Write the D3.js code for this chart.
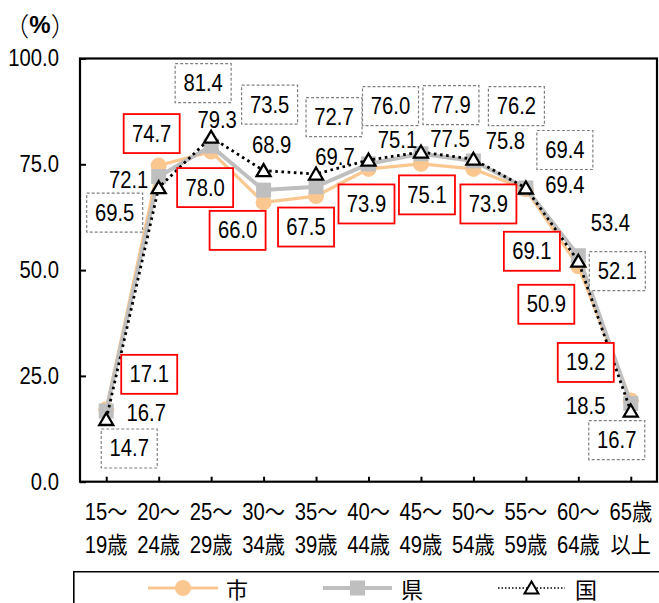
<!DOCTYPE html>
<html>
<head>
<meta charset="utf-8">
<script src="https://cdn.jsdelivr.net/npm/d3@7"></script>
<style>
  html, body { margin: 0; padding: 0; background: #fff; }
  svg { display: block; }
</style>
</head>
<body>
<svg id="chart" width="659" height="603"></svg>
<script>
// Labour force participation rate by age group (%)
const ageTop    = ["15～","20～","25～","30～","35～","40～","45～","50～","55～","60～","65歳"];
const ageBottom = ["19歳","24歳","29歳","34歳","39歳","44歳","49歳","54歳","59歳","64歳","以上"];
const categories = ageTop.map((t, i) => t + ageBottom[i]);

const cityValues   = [17.1, 74.7, 78.0, 66.0, 67.5, 73.9, 75.1, 73.9, 69.1, 50.9, 19.2]; // 市
const prefValues   = [16.7, 72.1, 79.3, 68.9, 69.7, 75.1, 77.5, 75.8, 69.4, 53.4, 18.5]; // 県
const nationValues = [14.7, 69.5, 81.4, 73.5, 72.7, 76.0, 77.9, 76.2, 69.4, 52.1, 16.7]; // 国

const yTicks = [0, 25, 50, 75, 100];
const seriesNames = ["市", "県", "国"];

// Hand-placed label offsets (px from each point) so the three label sets don't collide
const cityLabelOffsets   = [[43,-35],[-7,-32],[-6,36],[-26,28],[-10,31],[-2,35],[6,31],[15,35],[6,62],[-32,38],[-45,-38]];
const prefLabelOffsets   = [[40,2],[-30,3],[6,-26],[8,-45],[19,-30],[29,-24],[29,-15],[32,-20],[39,-3],[32,-33],[-45,3]];
const nationLabelOffsets = [[23,29],[-44,25],[-8,-54],[6,-66],[18,-57],[22,-54],[30,-47],[43,-53],[39,-38],[39,10],[-14,29]];

const FONT = "'Liberation Sans',Arial,'Noto Sans CJK JP',sans-serif";
const CJK  = "'Noto Sans CJK JP',sans-serif";
const FS = 23;
const SX = 0.88; // slightly condensed glyphs

const ORANGE = "#FBC791";
const GRAY = "#BFBFBF";

const svg = d3.select("#chart");

const plot = { left: 80, right: 657, top: 58.5, bottom: 481.7 };

const x = d3.scalePoint()
  .domain(categories)
  .range([plot.left, plot.right])
  .padding(0.5);

const y = d3.scaleLinear()
  .domain([0, 100])
  .range([plot.bottom, plot.top]);

// plot frame
svg.append("rect")
  .attr("x", plot.left).attr("y", plot.top)
  .attr("width", plot.right - plot.left).attr("height", plot.bottom - plot.top)
  .attr("fill", "none").attr("stroke", "#000").attr("stroke-width", 2.2);

// y axis (ticks pointing inward)
const yAxis = d3.axisRight(y)
  .tickValues(yTicks)
  .tickSize(6)
  .tickFormat("");
const yg = svg.append("g").attr("transform", `translate(${plot.left},0)`).call(yAxis);
yg.select(".domain").remove();
yg.selectAll(".tick line").attr("stroke", "#000").attr("stroke-width", 2);

svg.append("g").selectAll("text")
  .data(yTicks)
  .join("text")
  .attr("transform", d => `translate(59,${y(d)}) scale(${SX},1)`)
  .attr("text-anchor", "end")
  .attr("dominant-baseline", "central")
  .attr("font-family", FONT)
  .attr("font-size", FS)
  .attr("fill", "#000")
  .text(d => d3.format(".1f")(d));

// x axis (ticks pointing inward)
const xAxis = d3.axisTop(x).tickSize(5).tickFormat("");
const xg = svg.append("g").attr("transform", `translate(0,${plot.bottom})`).call(xAxis);
xg.select(".domain").remove();
xg.selectAll(".tick line").attr("stroke", "#000").attr("stroke-width", 2);

const xl = svg.append("g").selectAll("text")
  .data(categories)
  .join("text")
  .attr("transform", d => `translate(${x(d)},0) scale(${SX},1)`)
  .attr("text-anchor", "middle")
  .attr("font-family", FONT)
  .attr("font-size", FS)
  .attr("fill", "#000");
xl.append("tspan").attr("x", 0).attr("y", 512).attr("dominant-baseline", "central")
  .text((d, i) => ageTop[i]);
xl.append("tspan").attr("x", 0).attr("y", 545).attr("dominant-baseline", "central")
  .text((d, i) => ageBottom[i]);

// unit label
const unit = svg.append("text")
  .attr("x", 40).attr("y", 24)
  .attr("text-anchor", "middle")
  .attr("dominant-baseline", "central")
  .attr("font-family", CJK)
  .attr("font-size", 26);
unit.append("tspan").attr("font-weight", 300).text("（");
unit.append("tspan").attr("font-weight", "bold").attr("font-family", FONT).attr("font-size", 24).text("%");
unit.append("tspan").attr("font-weight", 300).text("）");

const line = d3.line().x((d, i) => x(categories[i])).y(d => y(d));

// 市
svg.append("path").datum(cityValues)
  .attr("d", line).attr("fill", "none")
  .attr("stroke", ORANGE).attr("stroke-width", 3.2).attr("stroke-linejoin", "round");
svg.append("g").selectAll("circle").data(cityValues).join("circle")
  .attr("cx", (d, i) => x(categories[i])).attr("cy", d => y(d))
  .attr("r", 8).attr("fill", ORANGE);

// 県
svg.append("path").datum(prefValues)
  .attr("d", line).attr("fill", "none")
  .attr("stroke", GRAY).attr("stroke-width", 4).attr("stroke-linejoin", "round");
svg.append("g").selectAll("rect").data(prefValues).join("rect")
  .attr("x", (d, i) => x(categories[i]) - 7.5).attr("y", d => y(d) - 7.5)
  .attr("width", 15).attr("height", 15).attr("fill", GRAY);

// 国
const tri = (cx, cy) => `M${cx},${cy - 6.5}L${cx + 7},${cy + 5.5}L${cx - 7},${cy + 5.5}Z`;
svg.append("path").datum(nationValues)
  .attr("d", line).attr("fill", "none")
  .attr("stroke", "#000").attr("stroke-width", 2.8)
  .attr("stroke-dasharray", "2.6,3.6");
svg.append("g").selectAll("path").data(nationValues).join("path")
  .attr("d", (d, i) => tri(x(categories[i]), y(d)))
  .attr("fill", "#fff").attr("stroke", "#000").attr("stroke-width", 2.3)
  .attr("stroke-linejoin", "miter");

// data labels
const BW = 56, BH = 39;
function labels(values, offsets, boxStyle) {
  const g = svg.append("g").selectAll("g").data(values).join("g")
    .attr("transform", (d, i) =>
      `translate(${x(categories[i]) + offsets[i][0]},${y(d) + offsets[i][1]})`);
  if (boxStyle) {
    g.append("rect")
      .attr("x", -BW / 2).attr("y", -BH / 2)
      .attr("width", BW).attr("height", BH)
      .attr("fill", "#fff")
      .attr("stroke", boxStyle.stroke)
      .attr("stroke-width", boxStyle.width)
      .attr("stroke-dasharray", boxStyle.dash || null);
  }
  g.append("text")
    .attr("transform", `scale(${SX},1)`)
    .attr("text-anchor", "middle")
    .attr("dominant-baseline", "central")
    .attr("font-family", FONT)
    .attr("font-size", FS)
    .attr("fill", "#000")
    .text(d => d3.format(".1f")(d));
}
labels(prefValues, prefLabelOffsets, null);
labels(nationValues, nationLabelOffsets, { stroke: "#808080", width: 1.2, dash: "3,2" });
labels(cityValues, cityLabelOffsets, { stroke: "#FF0000", width: 1.8 });

// legend (frame runs off the bottom/right edge of the canvas)
const lg = svg.append("g");
lg.append("path")
  .attr("d", "M73.8,603V571.8H659")
  .attr("fill", "none").attr("stroke", "#000").attr("stroke-width", 1.6);
const LY = 588;
const legendItems = [
  { name: seriesNames[0], x1: 148, x2: 218, tx: 226 },
  { name: seriesNames[1], x1: 323, x2: 392, tx: 401 },
  { name: seriesNames[2], x1: 498, x2: 565, tx: 575 }
];
// 市
lg.append("line").attr("x1", legendItems[0].x1).attr("x2", legendItems[0].x2)
  .attr("y1", LY).attr("y2", LY).attr("stroke", ORANGE).attr("stroke-width", 3.2);
lg.append("circle").attr("cx", (legendItems[0].x1 + legendItems[0].x2) / 2).attr("cy", LY)
  .attr("r", 8).attr("fill", ORANGE);
// 県
lg.append("line").attr("x1", legendItems[1].x1).attr("x2", legendItems[1].x2)
  .attr("y1", LY).attr("y2", LY).attr("stroke", GRAY).attr("stroke-width", 4);
lg.append("rect").attr("x", (legendItems[1].x1 + legendItems[1].x2) / 2 - 7.5).attr("y", LY - 7.5)
  .attr("width", 15).attr("height", 15).attr("fill", GRAY);
// 国
lg.append("line").attr("x1", legendItems[2].x1).attr("x2", legendItems[2].x2)
  .attr("y1", LY).attr("y2", LY).attr("stroke", "#000").attr("stroke-width", 1.6)
  .attr("stroke-dasharray", "1.5,2");
lg.append("path").attr("d", tri((legendItems[2].x1 + legendItems[2].x2) / 2, LY))
  .attr("fill", "#fff").attr("stroke", "#000").attr("stroke-width", 2);
lg.selectAll("text.name").data(legendItems).join("text")
  .attr("class", "name")
  .attr("x", d => d.tx).attr("y", LY)
  .attr("dominant-baseline", "central")
  .attr("font-family", CJK)
  .attr("font-size", 22)
  .text(d => d.name);
</script>
</body>
</html>
